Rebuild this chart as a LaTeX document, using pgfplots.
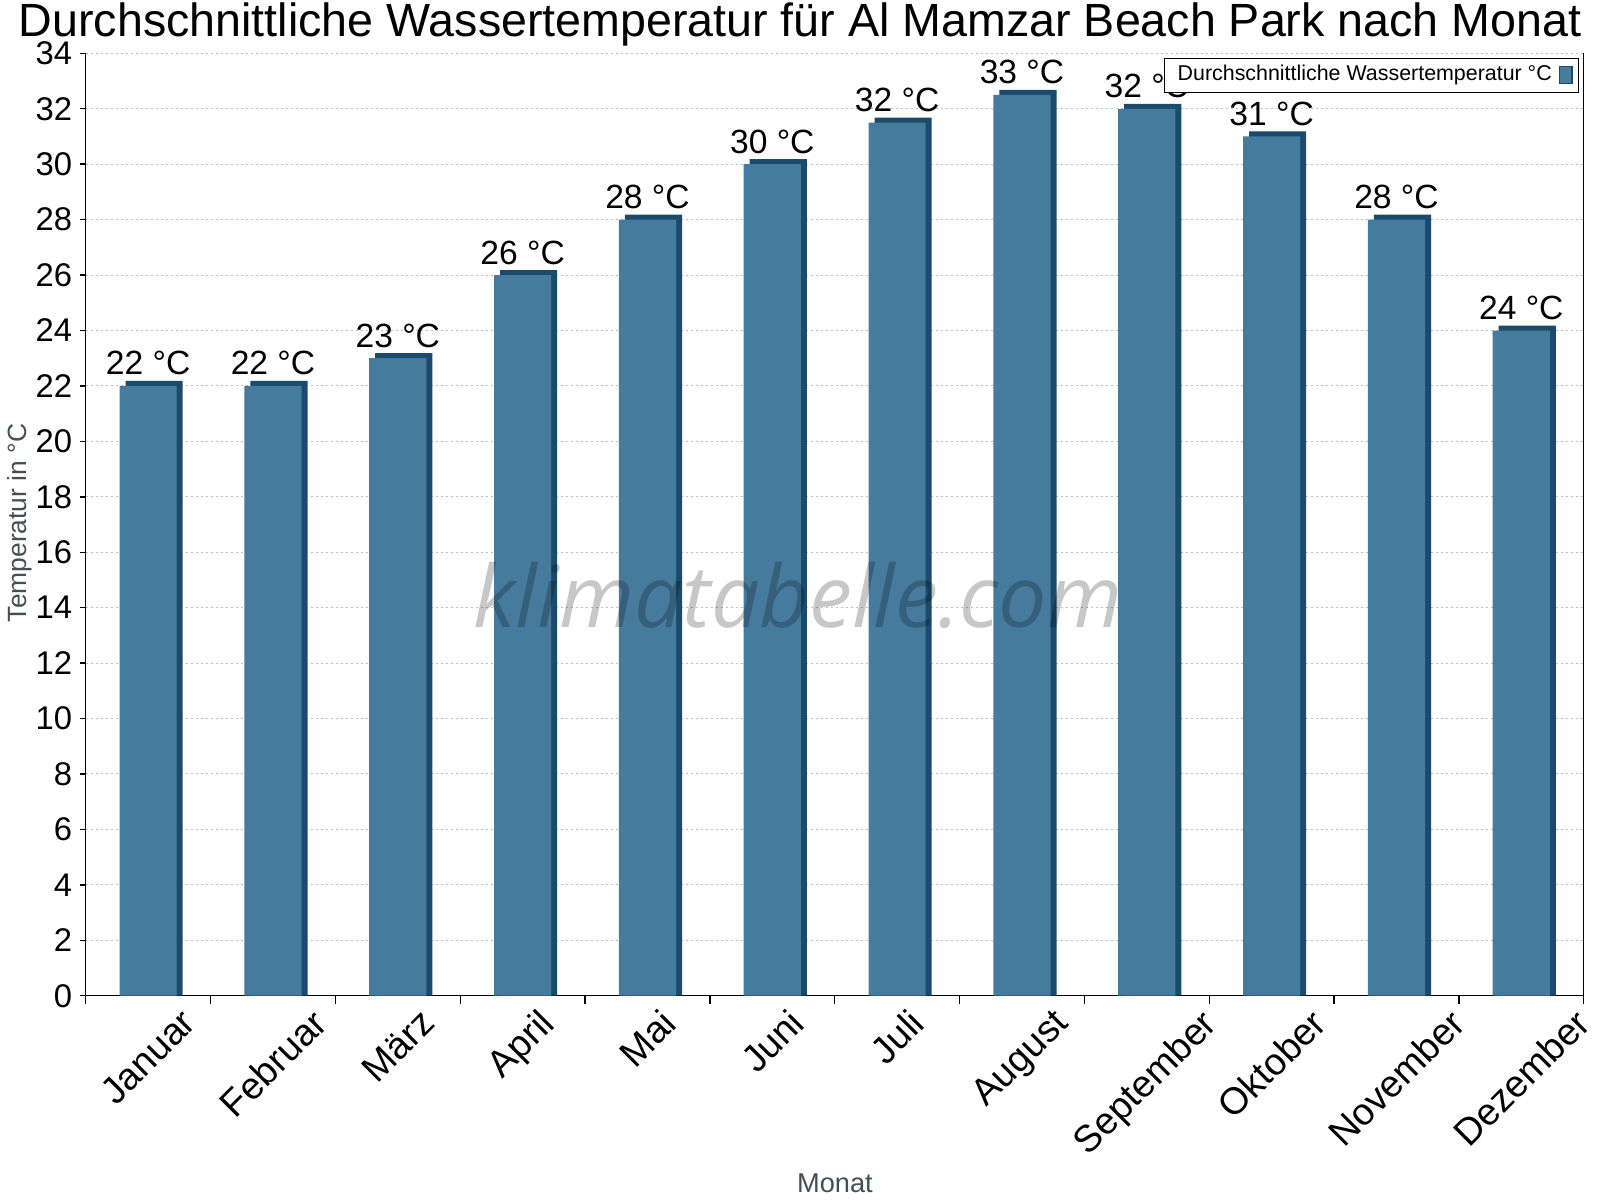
\documentclass[border=0pt]{standalone}
\usepackage{pgfplots}
\usepackage{pgfplotstable}
\usepackage{graphicx}
\usepackage{fontspec}
\setmainfont{Liberation Sans}
\newfontfamily\wmfont{Open Sans}
\pgfplotsset{compat=1.18}
\definecolor{frontc}{RGB}{70,123,158}
\definecolor{darkc}{RGB}{26,75,108}
\definecolor{labgray}{RGB}{72,77,84}
\pgfplotstableread[col sep=comma]{
x,t,lab
0,22,22 °C
1,22,22 °C
2,23,23 °C
3,26,26 °C
4,28,28 °C
5,30,30 °C
6,31.5,32 °C
7,32.5,33 °C
8,32,32 °C
9,31,31 °C
10,28,28 °C
11,24,24 °C
}\datatable
\newcommand{\rl}[1]{\rotatebox{45}{#1}}
\begin{document}
\begin{tikzpicture}
\begin{axis}[
  at={(0pt,0pt)}, anchor=south west,
  scale only axis,
  width=374.5pt, height=235.6pt,
  xmin=-0.5, xmax=11.5, ymin=0, ymax=34,
  axis x line*=bottom, axis y line*=left,
  axis line style={black, line width=0.35pt},
  tick align=outside,
  ytick={0,2,...,34},
  /pgf/number format/assume math mode=true,
  yticklabel style={font=\fontsize{8.2}{9}\selectfont, inner sep=0pt, xshift=-1.7pt},
  major tick length=1.5pt,
  minor tick length=2pt,
  tick style={black, line width=0.35pt},
  xtick={0,...,11},
  major x tick style={draw=none},
  minor xtick={-0.5,0.5,...,11.5},
  minor x tick style={black, line width=0.35pt},
  xticklabels={\rl{Januar},\rl{Februar},\rl{März},\rl{April},\rl{Mai},\rl{Juni},\rl{Juli},\rl{August},\rl{September},\rl{Oktober},\rl{November},\rl{Dezember}},
  xticklabel style={font=\fontsize{9.4}{11}\selectfont, inner sep=0pt, anchor=north, yshift=-1.1pt},
  ymajorgrids,
  major grid style={draw=gray!50, dash pattern=on 0.5pt off 0.75pt, line width=0.25pt},
  ylabel={Temperatur in °C},
  ylabel style={at={(rel axis cs:-0.0439,0.5016)}, rotate=0, anchor=center, font=\fontsize{6.6}{8}\selectfont, text=labgray},
  xlabel={Monat},
  xlabel style={at={(rel axis cs:0.5002,-0.1988)}, anchor=center, font=\fontsize{6.8}{8}\selectfont, text=labgray},
  legend plot pos=right,
  legend style={at={(rel axis cs:0.9969,0.995)}, anchor=north east, draw=black, line width=0.25pt,
    font=\fontsize{5.35}{6.5}\selectfont, inner xsep=1.5pt, inner ysep=0pt,
    nodes={inner ysep=1.5pt, inner xsep=1.7pt}},
  legend image code/.code={\draw[fill=frontc, draw=darkc, line width=0.3pt] (0pt,-2.1pt) rectangle (3.2pt,2.1pt);},
  clip=false,
]
\addplot[ybar, bar width=14.28pt, bar shift=1.5pt, fill=darkc, draw=none, forget plot]
  table[x=x, y expr=\thisrow{t}+0.18]{\datatable};
\addplot[ybar, bar width=14.28pt, bar shift=0pt, fill=frontc, draw=none,
  point meta=explicit symbolic, nodes near coords,
  every node near coord/.append style={font=\fontsize{8.4}{10}\selectfont, text=black, inner sep=0pt, anchor=base, yshift=2.75pt}]
  table[x=x, y=t, meta=lab]{\datatable};
\addlegendentry{Durchschnittliche Wassertemperatur °C}
\draw[black, line width=0.35pt] (rel axis cs:1,0) -- (rel axis cs:1,1);
\node[font=\wmfont\itshape\fontsize{21.5}{24}\selectfont, text=black, opacity=0.22, anchor=center] at (rel axis cs:0.4755,0.425) {klimatabelle.com};
\end{axis}
\node[font=\fontsize{11.65}{13}\selectfont, anchor=base] at (178.6pt,239.7pt) {Durchschnittliche Wassertemperatur für Al Mamzar Beach Park nach Monat};
\pgfresetboundingbox
\path[use as bounding box] (-21.43pt,-51.08pt) rectangle (378.57pt,248.93pt);
\end{tikzpicture}
\end{document}
